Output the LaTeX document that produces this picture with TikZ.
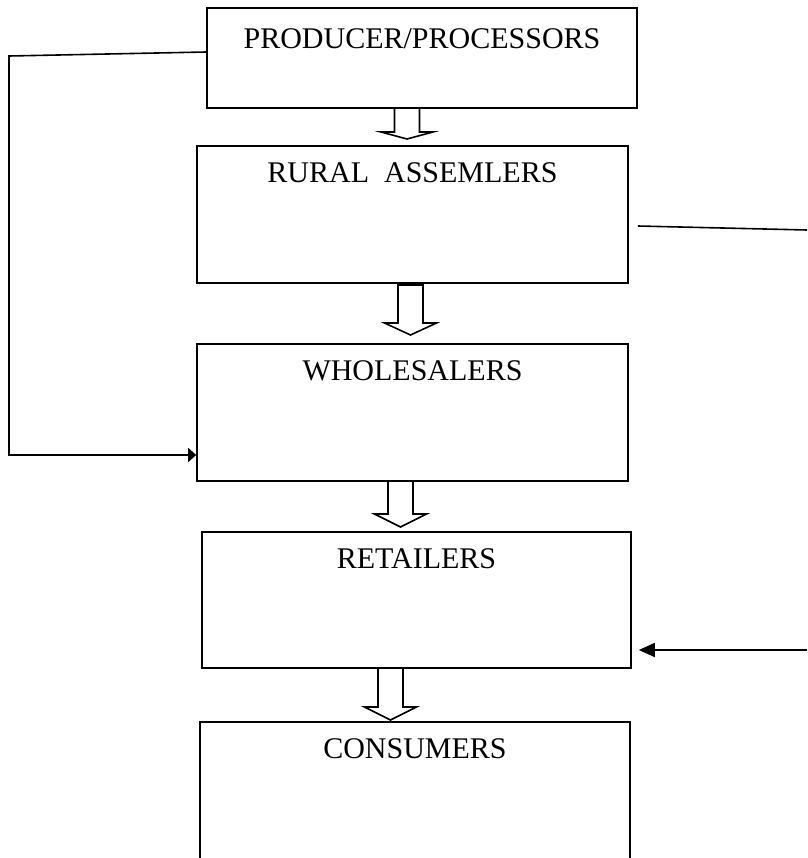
\documentclass[tikz,border=0pt]{standalone}
\usepackage{fontspec}
\setmainfont{Liberation Serif}
\usetikzlibrary{arrows.meta}

% hollow block arrow: x, top, head base, tip
\newcommand{\flowarrow}[4]{%
  \draw[fill=white] ({#1-12.5},#2) -- ({#1-12.5},#3) -- ({#1-26},#3) -- (#1,#4)
    -- ({#1+26},#3) -- ({#1+12.5},#3) -- ({#1+12.5},#2) -- cycle;}

\begin{document}
\begin{tikzpicture}[
                x=1pt, y=-1pt, line width=1.6pt,
                stage/.style = {draw, minimum width=431pt, minimum height=137pt, inner sep=0pt},
                stagetext/.style = {anchor=north, inner sep=0pt, yshift=-17pt, font=\fontsize{30}{36}\selectfont},
                link/.style = {-{Triangle[length=16pt,width=14pt]}}
                    ]
                \useasboundingbox (0,0) rectangle (807,858);
                \clip (0,0) rectangle (807,858);
                % boxes
                \node[stage, minimum width=430pt, minimum height=100pt,
                      label={[stagetext, yshift=-4pt, name=prodtext]north:PRODUCER/PROCESSORS}] (prod) at (422,58) {};
                \node[stage, label={[stagetext, name=ruraltext]north:RURAL~~ASSEMLERS}] (rural) at (412.5,214.5) {};
                \node[stage, label={[stagetext, name=wholetext]north:WHOLESALERS}] (whole) at (412.5,412.5) {};
                \node[stage, minimum width=429pt, minimum height=136pt,
                      label={[stagetext, name=retailtext]north:RETAILERS}] (retail) at (416.5,600) {};
                \node[stage, minimum width=430pt, minimum height=180pt,
                      label={[stagetext, name=constext]north:CONSUMERS}] (cons) at (415,812) {};
                % block arrows
                \flowarrow{407}{108}{132}{139}
                \flowarrow{410.5}{285}{323}{335}
                \flowarrow{400.5}{481}{514}{527}
                \flowarrow{390.5}{668}{707}{720}
                % side links
                \coordinate (ltop) at (9,56);
                \coordinate (lbot) at (9,455);
                \coordinate (rtop) at (807,230);
                \coordinate (rbot) at (807,650);
                \draw[-{Triangle[length=8pt,width=14pt]}] ([yshift=6pt]prod.west) -- (ltop) -- (lbot) -- (lbot -| whole.west);
                \draw ([xshift=9pt,yshift=-11.5pt]rural.east) -- (rtop);
                \draw[link] (rbot) -- ([xshift=7pt,yshift=-50pt]retail.east);
            \end{tikzpicture}
\end{document}
